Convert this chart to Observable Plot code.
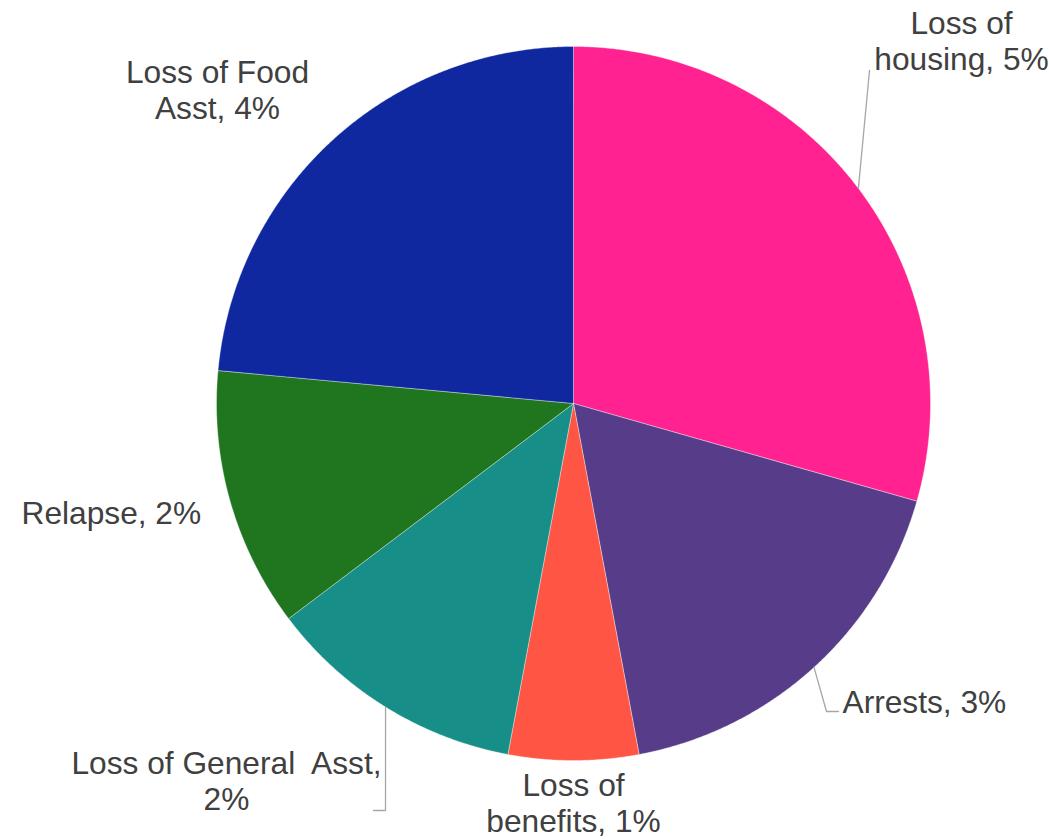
<!DOCTYPE html>
<html>
<head>
<meta charset="utf-8">
<script src="https://cdn.jsdelivr.net/npm/d3@7"></script>
<script src="https://cdn.jsdelivr.net/npm/@observablehq/plot@0.6"></script>
<style>
  html, body { margin: 0; padding: 0; background: #ffffff; }
  #chart svg { display: block; }
</style>
</head>
<body>
<div id="chart"></div>
<script>
// ---- data ----
const categories = ["Loss of housing", "Arrests", "Loss of benefits", "Loss of General Asst", "Relapse", "Loss of Food Asst"];
const values = [5, 3, 1, 2, 2, 4];
const labelTexts = ["Loss of\nhousing, 5%", "Arrests, 3%", "Loss of\nbenefits, 1%", "Loss of General\u00a0 Asst,\n2%", "Relapse, 2%", "Loss of Food\nAsst, 4%"];
const colors = ["#FF2290", "#573C8A", "#FF5544", "#178E87", "#20761E", "#0F28A0"];

// ---- layout (pixels) ----
const W = 1049, H = 839;
const CX = 573, CY = 403, R = 357;
const FS = 31.7, LH = 37 / 31.7;
// label anchor: x, first baseline, text-anchor; leader: bend points in pixels (null = no leader)
const labelLayout = [
  {x: 961, base: 33, anchor: "middle", leader: [[869, 70]]},
  {x: 842, base: 712, anchor: "start", leader: [[826, 711], [838, 711]]},
  {x: 573, base: 795, anchor: "middle", leader: null},
  {x: 226, base: 773, anchor: "middle", leader: [[385, 810], [373, 810]]},
  {x: 21, base: 523, anchor: "start", leader: null},
  {x: 217, base: 82, anchor: "middle", leader: null}
];

const toU = px => (px - CX) / R;
const toV = py => (CY - py) / R;

const arcs = d3.pie().sort(null).value(d => d)(values);

// slice polygons
const slicePts = [];
arcs.forEach((a, i) => {
  const cat = categories[i];
  slicePts.push({cat, u: 0, v: 0});
  const steps = Math.max(2, Math.ceil((a.endAngle - a.startAngle) / (Math.PI / 720)));
  for (let k = 0; k <= steps; k++) {
    const t = a.startAngle + (a.endAngle - a.startAngle) * k / steps;
    slicePts.push({cat, u: Math.sin(t), v: Math.cos(t)});
  }
  slicePts.push({cat, u: 0, v: 0});
});

// leader lines: start at the slice mid-angle on the rim
const leaderPts = [];
arcs.forEach((a, i) => {
  const L = labelLayout[i].leader;
  if (!L) return;
  const m = (a.startAngle + a.endAngle) / 2;
  leaderPts.push({cat: categories[i], u: Math.sin(m), v: Math.cos(m)});
  L.forEach(([px, py]) => leaderPts.push({cat: categories[i], u: toU(px), v: toV(py)}));
});

const labelRows = categories.map((c, i) => ({
  cat: c,
  text: labelTexts[i],
  u: toU(labelLayout[i].x),
  v: toV(labelLayout[i].base - 0.71 * LH * FS),
  anchor: labelLayout[i].anchor
}));

const chart = Plot.plot({
  width: W,
  height: H,
  margin: 0,
  x: {domain: [toU(0), toU(W)], range: [0, W], axis: null},
  y: {domain: [toV(H), toV(0)], range: [H, 0], axis: null},
  color: {domain: categories, range: colors},
  style: {fontFamily: "'Liberation Sans', Arial, sans-serif", background: "#ffffff"},
  marks: [
    Plot.line(slicePts, {x: "u", y: "v", z: "cat", fill: "cat", stroke: "#ffffff", strokeWidth: 0.6, strokeOpacity: 0.6, curve: "linear"}),
    Plot.line(leaderPts, {x: "u", y: "v", z: "cat", stroke: "#A6A6A6", strokeWidth: 1.3}),
    Plot.text(labelRows.filter(d => d.anchor === "middle"), {x: "u", y: "v", text: "text", textAnchor: "middle", lineAnchor: "top", lineHeight: LH, fontSize: FS, fill: "#404040"}),
    Plot.text(labelRows.filter(d => d.anchor === "start"), {x: "u", y: "v", text: "text", textAnchor: "start", lineAnchor: "top", lineHeight: LH, fontSize: FS, fill: "#404040"})
  ]
});
document.getElementById("chart").appendChild(chart);
</script>
</body>
</html>
